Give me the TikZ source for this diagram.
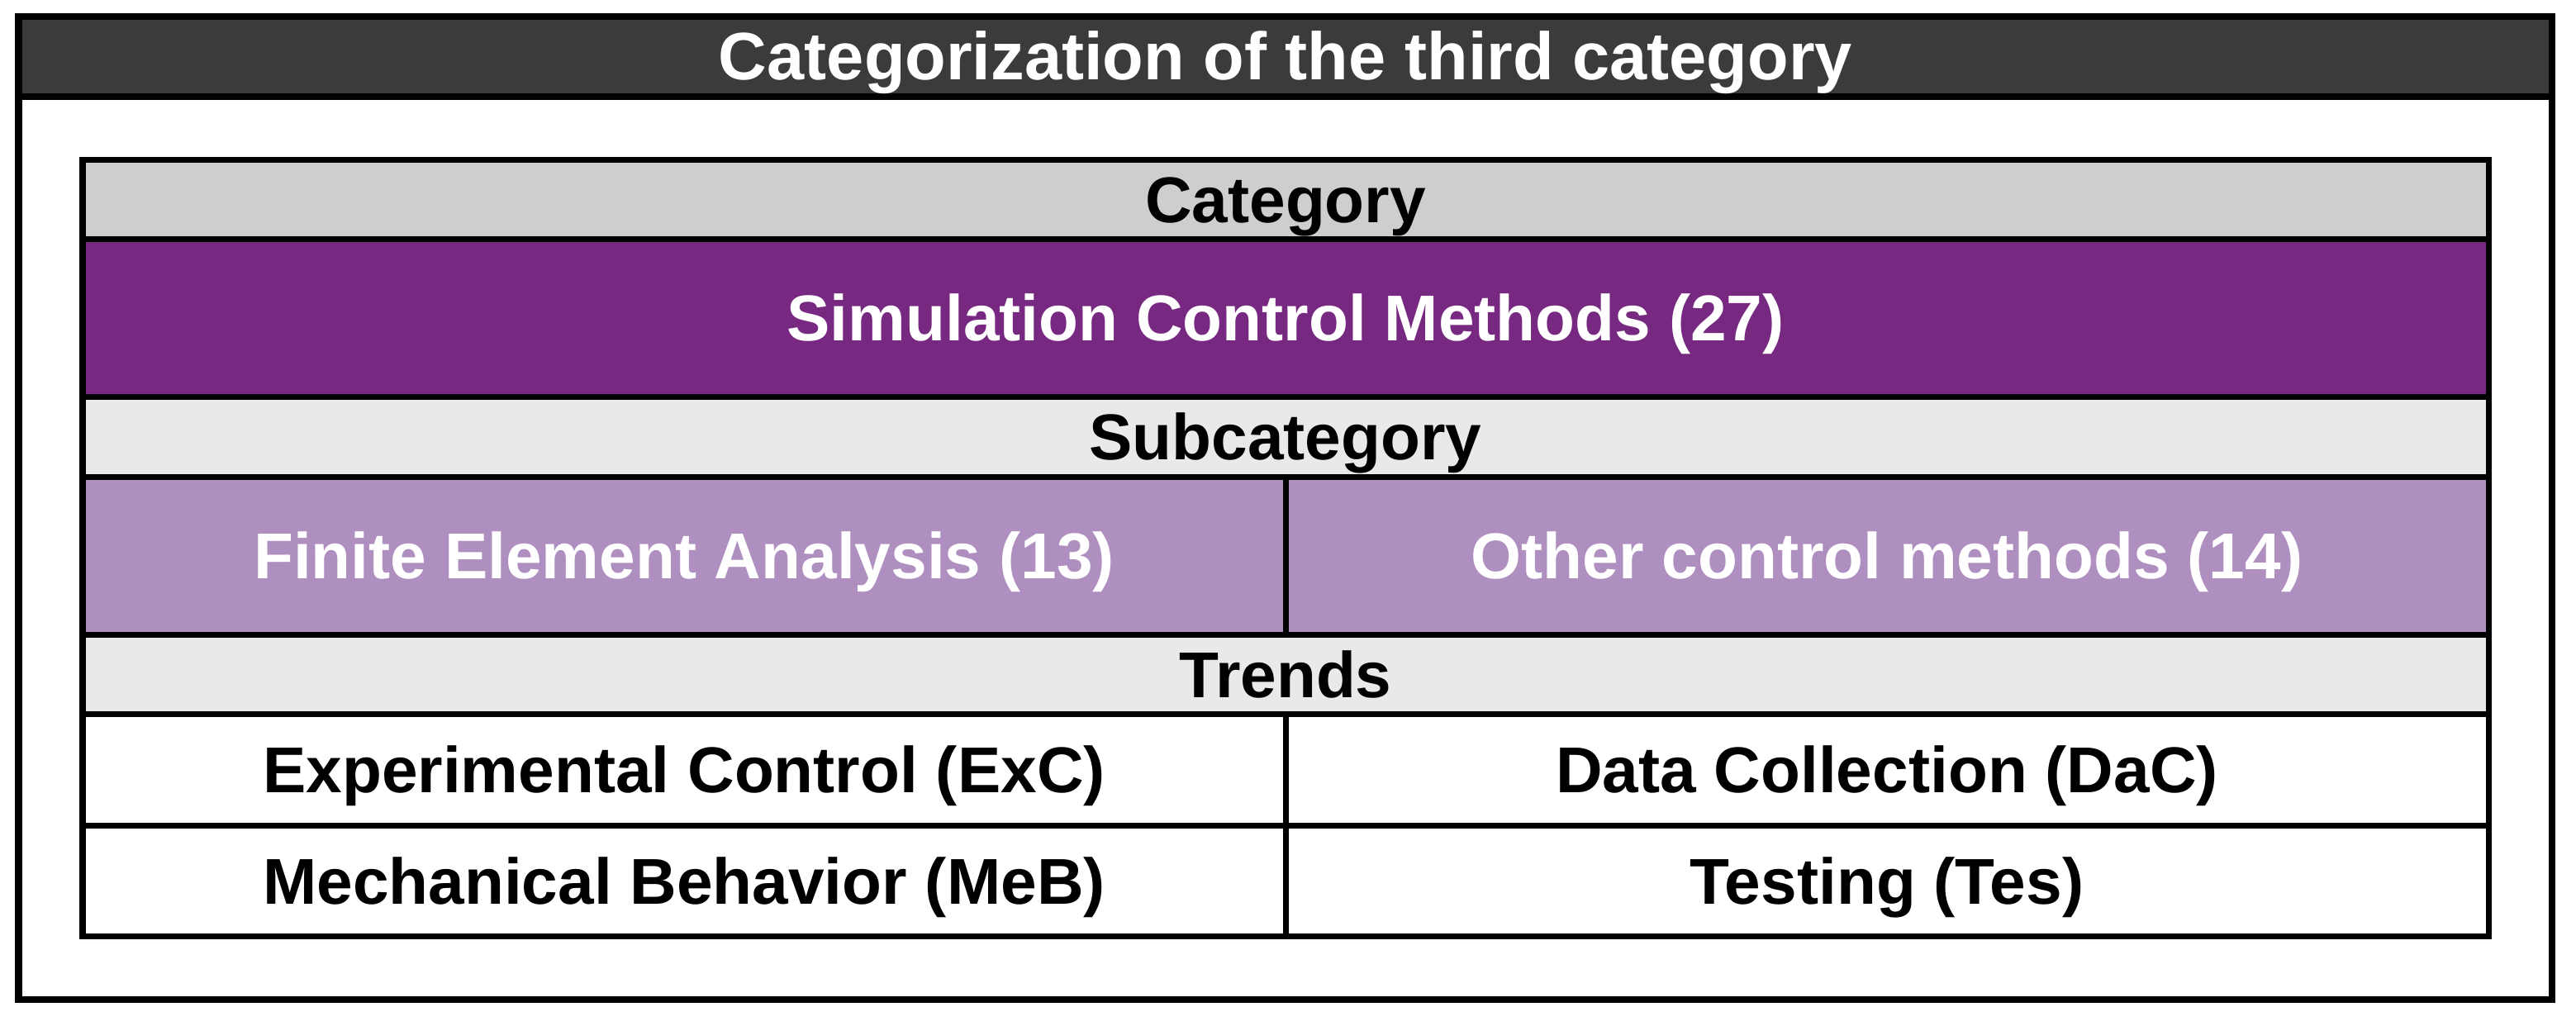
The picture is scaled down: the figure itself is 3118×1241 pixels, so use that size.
\documentclass[tikz,border=0pt]{standalone}
\usepackage{fontspec}
\setmainfont{Liberation Sans}
\definecolor{titlebar}{HTML}{3B3B3D}
\definecolor{catgray}{HTML}{CDCECD}
\definecolor{simpurple}{HTML}{772981}
\definecolor{subgray}{HTML}{E8E9E8}
\definecolor{lightpurple}{HTML}{AF8EC0}
\tikzset{
  cell/.style={font=\bfseries\fontsize{22.3pt}{24pt}\selectfont, text height=16pt, text depth=0pt, inner sep=0pt, anchor=center},
  whitetext/.style={cell, text=white},
  blacktext/.style={cell, text=black},
  titletext/.style={cell, text=white, font=\bfseries\fontsize{23.1pt}{26pt}\selectfont, text height=16.5pt},
  tline/.style={line width=0.07cm, black},
  oline/.style={line width=0.08cm, black}
}
\begin{document}
\begin{tikzpicture}[x=0.01cm, y=-0.01cm]
\useasboundingbox (0,0) rectangle (3118,1241);
% outer frame and title bar
\fill[white] (22.5,20) rectangle (3089,1210);
\fill[titlebar] (22.5,20) rectangle (3089,117);
\draw[oline] (22.5,117) -- (3089,117);
\draw[oline] (22.5,20) rectangle (3089,1210);
\node[titletext] (title) at (1556,67) {Categorization of the third category};
% table fills
\fill[catgray] (100,193) rectangle (3012,289);
\fill[simpurple] (100,289) rectangle (3012,480);
\fill[subgray] (100,480) rectangle (3012,577);
\fill[lightpurple] (100,577) rectangle (3012,768);
\fill[subgray] (100,768) rectangle (3012,864);
\fill[white] (100,864) rectangle (3012,1133);
% table lines
\draw[tline] (100,289) -- (3012,289);
\draw[tline] (100,480) -- (3012,480);
\draw[tline] (100,577) -- (3012,577);
\draw[tline] (100,768) -- (3012,768);
\draw[tline] (100,864) -- (3012,864);
\draw[tline] (100,999) -- (3012,999);
\draw[tline] (1556,577) -- (1556,768);
\draw[tline] (1556,864) -- (1556,1133);
\draw[tline] (100,193) rectangle (3012,1133);
% texts
\node[blacktext] (cat) at (1556,241) {Category};
\node[whitetext] (sim) at (1556,384.5) {Simulation Control Methods (27)};
\node[blacktext] (subcat) at (1556,528) {Subcategory};
\node[whitetext] (fea) at (828,672) {Finite Element Analysis (13)};
\node[whitetext] (ocm) at (2284,672) {Other control methods (14)};
\node[blacktext] (trends) at (1556,816) {Trends};
\node[blacktext] (exc) at (828,931) {Experimental Control (ExC)};
\node[blacktext] (dac) at (2284,931) {Data Collection (DaC)};
\node[blacktext] (meb) at (828,1066) {Mechanical Behavior (MeB)};
\node[blacktext] (tes) at (2284,1066) {Testing (Tes)};
\end{tikzpicture}
\end{document}
